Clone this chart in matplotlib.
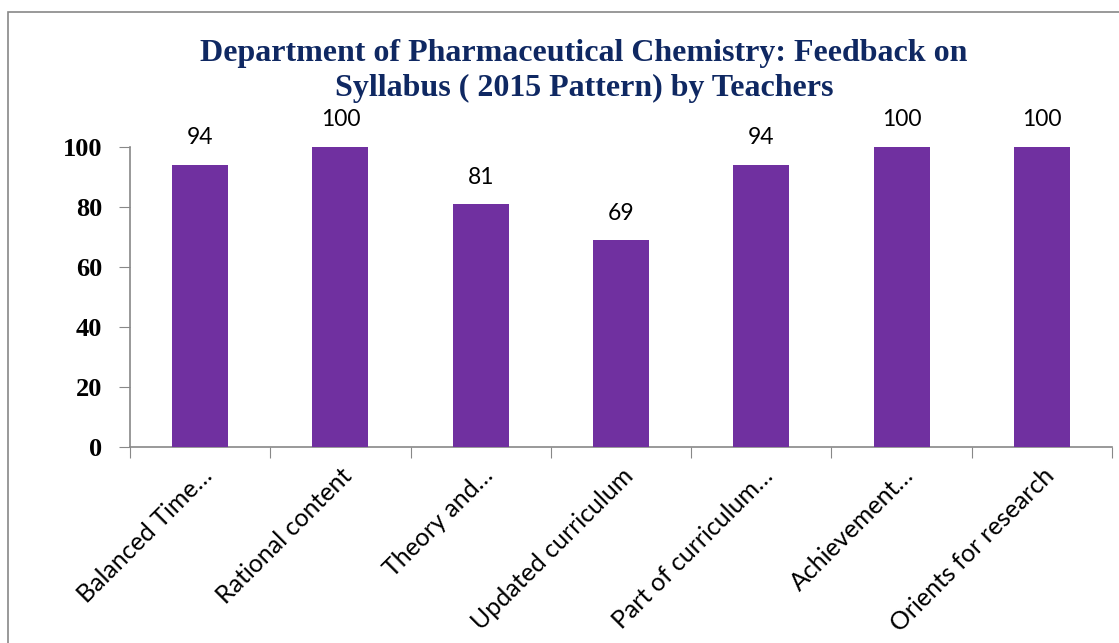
import matplotlib.pyplot as plt
import numpy as np
from matplotlib.patches import Rectangle

categories = ["Balanced Time…", "Rational content", "Theory and…", "Updated curriculum",
              "Part of curriculum…", "Achievement…", "Orients for research"]
values = [94, 100, 81, 69, 94, 100, 100]
yticks = [0, 20, 40, 60, 80, 100]
title = "Department of Pharmaceutical Chemistry: Feedback on\nSyllabus ( 2015 Pattern) by Teachers"

fig = plt.figure(figsize=(11.19, 6.43), dpi=100)
ax = fig.add_axes([130/1119, 1-447/643, (1112-130)/1119, 300/643])

x = np.arange(len(categories))
ax.bar(x, values, width=0.4, color="#7030A0", zorder=3)
for xi, v in zip(x, values):
    ax.text(xi, v + 5.5, str(v), ha="center", va="bottom", fontsize=16.5,
            family="Lato", color="black", clip_on=False)

ax.set_xlim(-0.5, len(categories) - 0.5)
ax.set_ylim(0, 100)
ax.set_yticks(yticks)
ax.set_yticklabels([str(t) for t in yticks], fontsize=19, family="Liberation Serif",
                   fontweight="bold")
ax.set_xticks(np.arange(-0.5, len(categories), 1.0))
ax.set_xticklabels([])
ax.set_xticks(x, minor=True)
ax.set_xticklabels(categories, minor=True, rotation=45, ha="right", va="top",
                   rotation_mode="anchor", fontsize=18, family="Lato")
ax.tick_params(axis="x", which="minor", length=0, pad=12)
ax.tick_params(axis="x", which="major", length=8, color="#888888", direction="out")
ax.tick_params(axis="y", length=8, color="#888888", direction="out", pad=12)
for s in ["top", "right"]:
    ax.spines[s].set_visible(False)
for s in ["left", "bottom"]:
    ax.spines[s].set_color("#888888")
    ax.spines[s].set_linewidth(1.2)

fig.text(584/1119, 1-71/643, title, ha="center", va="center", fontsize=23,
         family="Liberation Serif", fontweight="bold", color="#0F2862", linespacing=1.25)

fig.patches.append(Rectangle((8/1119, -0.1), 1.2, 1-12/643+0.1, transform=fig.transFigure,
                             fill=False, edgecolor="#888888", linewidth=1.2))

fig.savefig("out.png", dpi=100)
